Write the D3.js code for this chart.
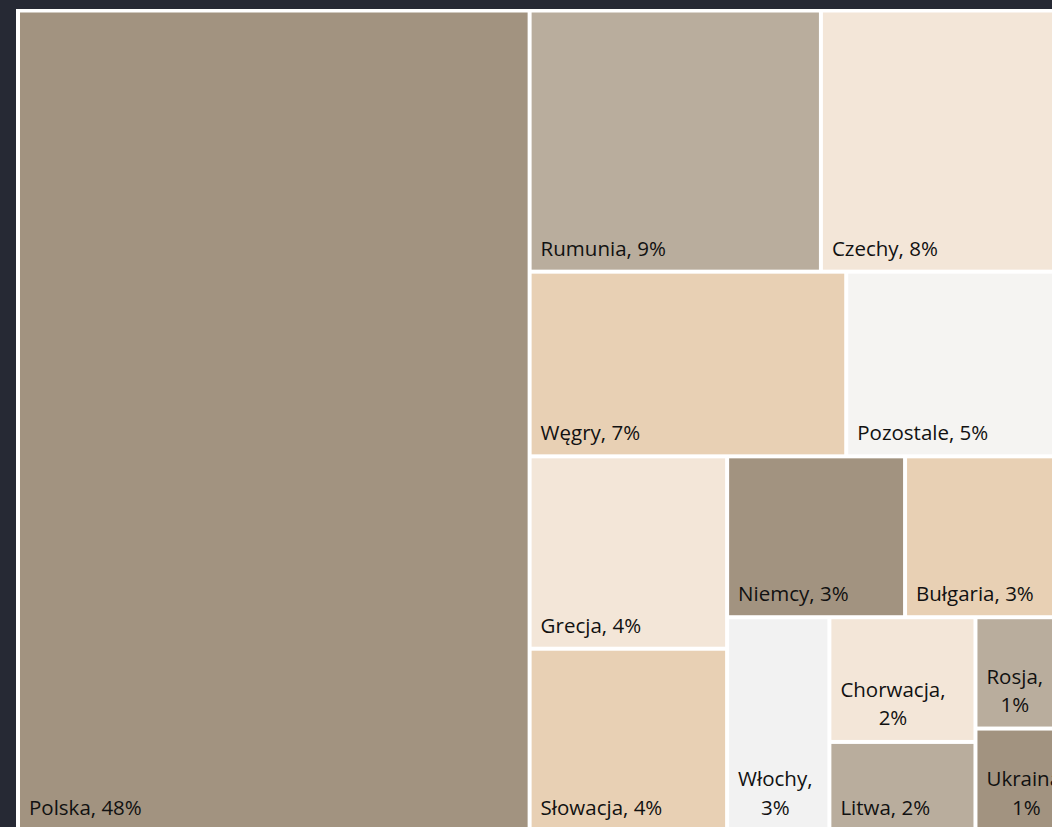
<!DOCTYPE html>
<html>
<head>
<meta charset="utf-8">
<script src="https://cdn.jsdelivr.net/npm/d3@7"></script>
<style>
  html, body { margin: 0; padding: 0; background: #262934; }
  svg { display: block; }
</style>
</head>
<body>
<svg id="chart" width="1052" height="827"></svg>
<script>
// shares in %, estimated from tile areas (labels show them rounded)
const countries = ['Polska', 'Rumunia', 'Czechy', 'Węgry', 'Pozostale', 'Grecja', 'Słowacja',
  'Niemcy', 'Bułgaria', 'Włochy', 'Chorwacja', 'Litwa', 'Rosja', 'Ukraina']
const shares = [48.39, 8.77, 7.89, 6.74, 5.04, 4.38, 4.15, 3.3, 3.3, 2.52, 2.1, 1.5, 1.38, 1.27]
// nesting of the tiles as the picture groups them (rows / columns)
const groups = ['', 'p/a', 'p/a', 'p/b', 'p/b', 'p/q/g', 'p/q/g', 'p/q/r/n', 'p/q/r/n',
  'p/q/r/s', 'p/q/r/s/c', 'p/q/r/s/c', 'p/q/r/s/u', 'p/q/r/s/u']

const tileColors = ['#a29380', '#b9ad9d', '#f3e6d8', '#e8d0b4', '#f5f4f2', '#f3e6d8', '#e8d0b4',
  '#a29380', '#e8d0b4', '#f2f2f2', '#f3e6d8', '#b9ad9d', '#b9ad9d', '#a29380']

const originX = 18
const originY = 10.5
const mapW = 1065
const mapH = 820.5
const inset = 2
const pad = 11
const lineH = 28.5

function buildTree() {
  const tree = {name: 'root', children: []}
  countries.forEach((name, i) => {
    let node = tree
    if (groups[i]) {
      groups[i].split('/').forEach((key) => {
        let next = node.children.find((c) => c.key === key)
        if (!next) {
          next = {key, children: []}
          node.children.push(next)
        }
        node = next
      })
    }
    node.children.push({name, value: shares[i], idx: i})
  })
  return tree
}

const root = d3.hierarchy(buildTree()).sum((d) => d.value || 0)

d3.treemap()
  .tile(d3.treemapSliceDice)
  .size([mapW, mapH])(root)

const svg = d3.select('#chart')

svg.append('rect')
  .attr('x', originX - 2)
  .attr('y', originY - 1.5)
  .attr('width', mapW + 4)
  .attr('height', mapH + 4)
  .attr('fill', '#ffffff')

const g = svg.append('g').attr('transform', `translate(${originX},${originY})`)

const leaves = root.leaves()

const cell = g.selectAll('g.tile')
  .data(leaves)
  .join('g')
  .attr('class', 'tile')

cell.append('rect')
  .attr('x', (d) => d.x0 + inset)
  .attr('y', (d) => d.y0 + inset)
  .attr('width', (d) => d.x1 - d.x0 - 2 * inset)
  .attr('height', (d) => d.y1 - d.y0 - 2 * inset)
  .attr('fill', (d) => tileColors[d.data.idx])

cell.each(function (d) {
  const sel = d3.select(this)
  const pct = Math.round(d.data.value) + '%'
  const avail = d.x1 - d.x0 - 2 * pad

  const text = sel.append('text')
    .attr('font-family', '"Open Sans", "Noto Sans", sans-serif')
    .attr('font-size', 20.5)
    .attr('fill', '#111111')

  const single = text.append('tspan')
    .attr('x', d.x0 + pad)
    .attr('y', d.y1 - 16)
    .text(d.data.name + ', ' + pct)

  if (single.node().getComputedTextLength() > avail) {
    single.remove()
    const lines = [d.data.name + ',', pct]
    const spans = lines.map((l) => text.append('tspan').text(l))
    const blockW = d3.max(spans, (s) => s.node().getComputedTextLength())
    spans.forEach((s, j) => {
      s.attr('x', d.x0 + pad + blockW / 2)
        .attr('y', d.y1 - 16.5 - (lines.length - 1 - j) * lineH)
        .attr('text-anchor', 'middle')
    })
  }
})
</script>
</body>
</html>
